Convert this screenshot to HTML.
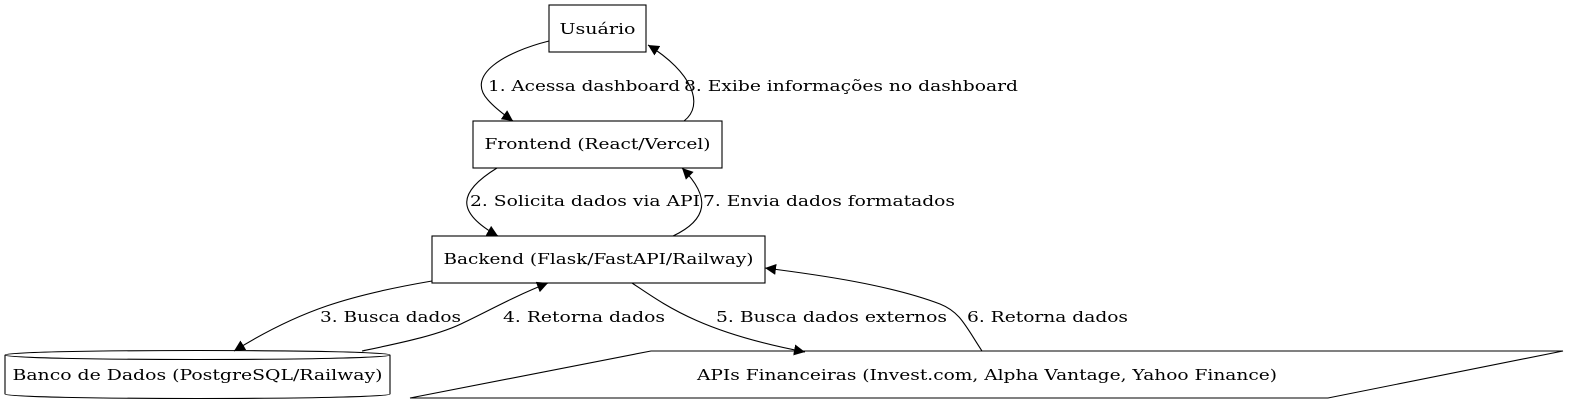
<!DOCTYPE html>
<html><head><meta charset="utf-8"><style>
html,body{margin:0;padding:0;background:#fff;}
svg{display:block;}
text{font-family:"DejaVu Serif","Liberation Serif",serif;font-size:15px;fill:#000;}
</style></head><body>
<svg width="1574" height="407" viewBox="0 0 1574 407" xmlns="http://www.w3.org/2000/svg">
<defs>
<marker id="a" viewBox="0 0 10 10" refX="10" refY="5" markerWidth="11" markerHeight="11" markerUnits="userSpaceOnUse" orient="auto">
<path d="M0,0 L10,5 L0,10 z" fill="#000"/></marker>
</defs>
<g fill="none" stroke="#000" stroke-width="1.1">
<rect x="549" y="5" width="97" height="47"/>
<rect x="473" y="121" width="249" height="47"/>
<rect x="432" y="236" width="333" height="47"/>
<path d="M5,355 C5,349 390,349 390,355 L390,394 C390,400 5,400 5,394 Z"/>
<path d="M5,355 C5,361 390,361 390,355"/>
<path d="M651,351 L1563,351 L1328,398 L410,398 Z"/>
<path d="M549,41 C505,52 465,75 488,100 C495,108 503,114 513,121" marker-end="url(#a)"/>
<path d="M684,121 C705,105 692,72 648,45" marker-end="url(#a)"/>
<path d="M497,168 C458,192 455,212 498,236" marker-end="url(#a)"/>
<path d="M673,236 C707,220 712,198 682,168" marker-end="url(#a)"/>
<path d="M432,281 C350,295 300,310 234,351" marker-end="url(#a)"/>
<path d="M362,351 C400,343 440,335 465,322 C490,310 515,296 548,283" marker-end="url(#a)"/>
<path d="M632,283 C665,305 700,332 805,352" marker-end="url(#a)"/>
<path d="M982,351 C965,325 960,312 940,304 C890,285 820,275 765,268" marker-end="url(#a)"/>
</g>
<text x="597.5" y="34" text-anchor="middle" textLength="76" lengthAdjust="spacingAndGlyphs">Usuário</text>
<text x="597.5" y="149" text-anchor="middle" textLength="226" lengthAdjust="spacingAndGlyphs">Frontend (React/Vercel)</text>
<text x="598.5" y="264" text-anchor="middle" textLength="310" lengthAdjust="spacingAndGlyphs">Backend (Flask/FastAPI/Railway)</text>
<text x="197.5" y="380" text-anchor="middle" textLength="370" lengthAdjust="spacingAndGlyphs">Banco de Dados (PostgreSQL/Railway)</text>
<text x="987" y="380" text-anchor="middle" textLength="580" lengthAdjust="spacingAndGlyphs">APIs Financeiras (Invest.com, Alpha Vantage, Yahoo Finance)</text>
<text x="488" y="91" textLength="192" lengthAdjust="spacingAndGlyphs">1. Acessa dashboard</text>
<text x="684" y="91" textLength="334" lengthAdjust="spacingAndGlyphs">8. Exibe informações no dashboard</text>
<text x="470" y="206" textLength="230" lengthAdjust="spacingAndGlyphs">2. Solicita dados via API</text>
<text x="703" y="206" textLength="252" lengthAdjust="spacingAndGlyphs">7. Envia dados formatados</text>
<text x="320" y="322" textLength="141" lengthAdjust="spacingAndGlyphs">3. Busca dados</text>
<text x="503" y="322" textLength="162" lengthAdjust="spacingAndGlyphs">4. Retorna dados</text>
<text x="716" y="322" textLength="231" lengthAdjust="spacingAndGlyphs">5. Busca dados externos</text>
<text x="967" y="322" textLength="161" lengthAdjust="spacingAndGlyphs">6. Retorna dados</text>
</svg>
</body></html>
